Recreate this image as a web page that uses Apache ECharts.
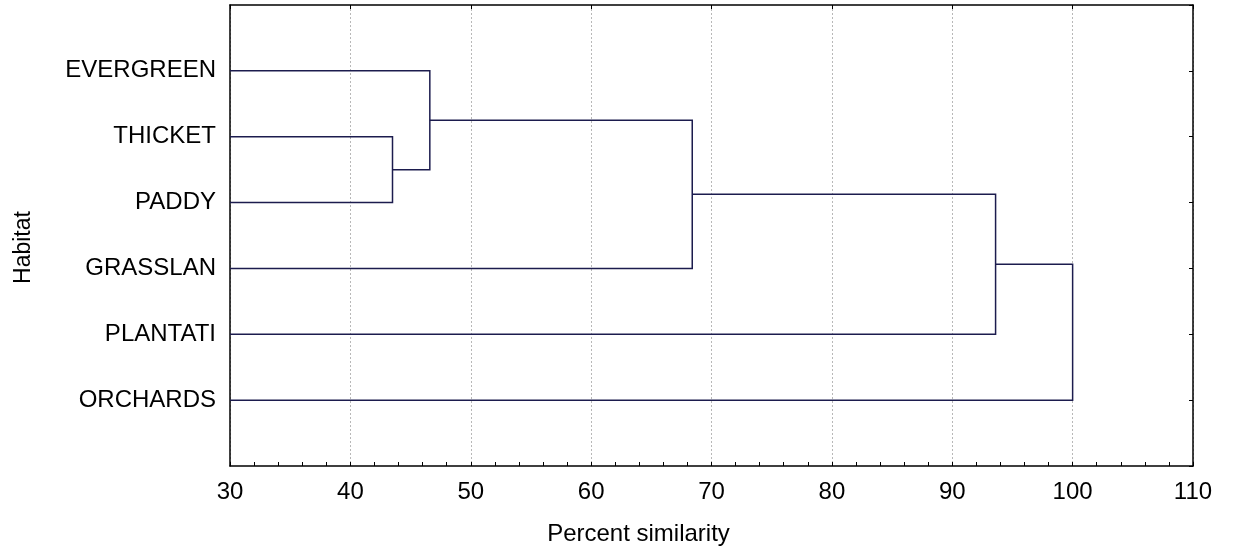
<!DOCTYPE html>
<html>
<head>
<meta charset="utf-8">
<script src="https://cdn.jsdelivr.net/npm/echarts@6/dist/echarts.min.js"></script>
<style>
  html, body { margin: 0; padding: 0; background: #fff; }
  #main { width: 1233px; height: 551px; }
</style>
</head>
<body>
<div id="main"></div>
<script>
// leaves, top to bottom
var leaves = ['EVERGREEN', 'THICKET', 'PADDY', 'GRASSLAN', 'PLANTATI', 'ORCHARDS'];
// merges: node ids (0..5 are leaves, 6.. are new clusters in order)
var mergeLeft   = [1, 0, 7, 8, 9];
var mergeRight  = [2, 6, 3, 4, 5];
var mergeHeight = [43.5, 46.6, 68.4, 93.6, 100];
var xTicks = [30, 40, 50, 60, 70, 80, 90, 100, 110];

var myChart = echarts.init(document.getElementById('main'));

// node positions: x = joining height, y = leaf slot (1..6)
var nodeX = [], nodeY = [];
leaves.forEach(function (name, i) {
    nodeX.push(xTicks[0]);
    nodeY.push(i + 1);
});
var links = [];
mergeHeight.forEach(function (h, k) {
    var a = mergeLeft[k], b = mergeRight[k];
    links.push({
        coords: [[nodeX[a], nodeY[a]], [h, nodeY[a]], [h, nodeY[b]], [nodeX[b], nodeY[b]]]
    });
    nodeX.push(h);
    nodeY.push((nodeY[a] + nodeY[b]) / 2);
});

var font = 'Liberation Sans, Arial, Helvetica, sans-serif';
var black = '#000';

var option = {
    backgroundColor: '#fff',
    animation: false,
    grid: { left: 230, right: 40, top: 5, bottom: 83 },
    xAxis: [{
        type: 'value',
        position: 'bottom',
        min: 30, max: 110, interval: 10,
        name: 'Percent similarity',
        nameLocation: 'middle',
        nameGap: 56,
        // name sits left of the plot centre in the original
        nameTextStyle: { fontFamily: font, fontSize: 24, color: black, padding: [0, 146, 0, 0] },
        axisLine: { onZero: false, lineStyle: { color: black, width: 1.5 } },
        axisTick: { inside: true, length: 4, lineStyle: { color: black } },
        minorTick: { show: true, splitNumber: 5, length: 4, lineStyle: { color: black } },
        axisLabel: {
            fontFamily: font, fontSize: 24, color: black, margin: 14,
            formatter: function (v) { return xTicks.indexOf(v) >= 0 ? String(v) : ''; }
        },
        splitLine: { show: true, lineStyle: { color: '#b8b8b8', type: [2, 2], width: 1 } }
    }, {
        type: 'value',
        position: 'top',
        min: 30, max: 110, interval: 10,
        axisLine: { onZero: false, lineStyle: { color: black, width: 1.5 } },
        axisTick: { inside: true, length: 4, lineStyle: { color: black } },
        axisLabel: { show: false },
        splitLine: { show: false }
    }],
    yAxis: [{
        type: 'value',
        position: 'left',
        min: 0, max: 7, interval: 1,
        inverse: true,
        name: 'Habitat',
        nameLocation: 'middle',
        nameGap: 195,
        nameRotate: 90,
        nameTextStyle: { fontFamily: font, fontSize: 23, color: black, padding: [0, 24, 0, 0] },
        axisLine: { show: true, onZero: false, lineStyle: { color: black, width: 1.5 } },
        axisTick: { show: false },
        axisLabel: {
            fontFamily: font, fontSize: 24, color: black, margin: 14,
            formatter: function (v) { return leaves[v - 1] || ''; }
        },
        splitLine: { show: false }
    }, {
        type: 'value',
        position: 'right',
        min: 0, max: 7, interval: 1,
        inverse: true,
        axisLine: { show: true, onZero: false, lineStyle: { color: black, width: 1.5 } },
        axisTick: { show: true, inside: true, length: 4, lineStyle: { color: black } },
        axisLabel: { show: false },
        splitLine: { show: false }
    }],
    series: [{
        type: 'lines',
        coordinateSystem: 'cartesian2d',
        xAxisIndex: 0,
        yAxisIndex: 0,
        polyline: true,
        silent: true,
        lineStyle: { color: '#1c1c4e', width: 1.5, opacity: 1 },
        data: links
    }]
};

myChart.setOption(option);
</script>
</body>
</html>
